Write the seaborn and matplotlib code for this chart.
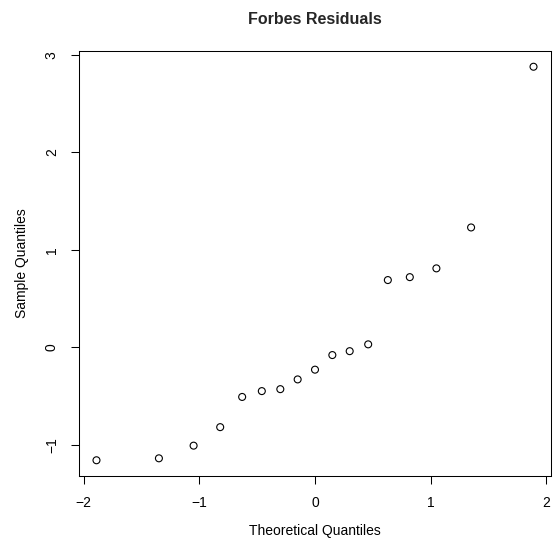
import matplotlib
matplotlib.use("Agg")
import matplotlib.pyplot as plt
import seaborn as sns
import pandas as pd

# Normal Q-Q plot of the Forbes regression residuals
theoretical = [-1.89, -1.35, -1.05, -0.82, -0.63, -0.46, -0.30, -0.15, 0.00,
               0.15, 0.30, 0.46, 0.63, 0.82, 1.05, 1.35, 1.89]
sample = [-1.16, -1.14, -1.01, -0.82, -0.51, -0.45, -0.43, -0.33, -0.23,
          -0.08, -0.04, 0.03, 0.69, 0.72, 0.81, 1.23, 2.88]
x_ticks = [-2, -1, 0, 1, 2]
y_ticks = [-1, 0, 1, 2, 3]

df = pd.DataFrame({"Theoretical Quantiles": theoretical,
                   "Sample Quantiles": sample})

sns.set_style("white")
plt.rcParams["font.family"] = ["Liberation Sans", "DejaVu Sans"]

fig = plt.figure(figsize=(5.6, 5.4), dpi=100)
ax = fig.add_axes([79 / 560, 64 / 540, 472 / 560, 425 / 540])

sns.scatterplot(data=df, x="Theoretical Quantiles", y="Sample Quantiles",
                marker="o", s=25, facecolors="none", edgecolor="black",
                linewidth=0.8, ax=ax, legend=False)

# R-style 4% padding around the data range
xr = max(theoretical) - min(theoretical)
yr = max(sample) - min(sample)
ax.set_xlim(min(theoretical) - 0.04 * xr, max(theoretical) + 0.04 * xr)
ax.set_ylim(min(sample) - 0.04 * yr, max(sample) + 0.04 * yr)

ax.set_xticks(x_ticks)
ax.set_xticklabels(["\u22122", "\u22121", "0", "1", "2"])
ax.set_yticks(y_ticks)
ax.set_yticklabels(["\u22121", "0", "1", "2", "3"], rotation=90, va="center")

ax.tick_params(axis="both", which="major", direction="out", length=5.5,
               width=0.75, color="black", labelsize=10, labelcolor="black",
               pad=9, bottom=True, left=True)

for sp in ax.spines.values():
    sp.set_visible(True)
    sp.set_color("black")
    sp.set_linewidth(0.75)

ax.set_xlabel("Theoretical Quantiles", fontsize=10, color="black")
ax.set_ylabel("Sample Quantiles", fontsize=10, color="black")
ax.xaxis.label.set_va("center")
ax.yaxis.label.set_va("center")
ax.yaxis.label.set_rotation_mode("anchor")
ax.xaxis.set_label_coords(0.5, -55 / 425)
ax.yaxis.set_label_coords(-57 / 472, 0.5)

fig.text((79 + 551) / 2 / 560, 1 - 19 / 540, "Forbes Residuals",
         ha="center", va="center", fontsize=11.5, fontweight="bold")

fig.savefig("out.png", dpi=100, facecolor="white")
